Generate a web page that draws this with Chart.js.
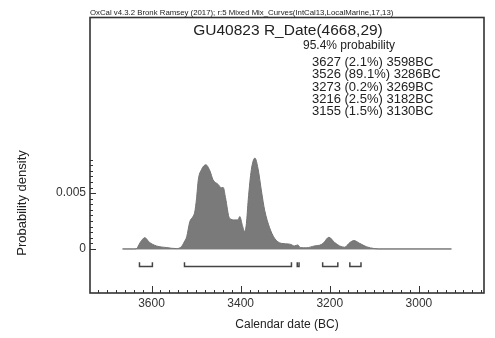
<!DOCTYPE html>
<html>
<head>
<meta charset="utf-8">
<script src="https://cdn.jsdelivr.net/npm/chart.js@4.4.1/dist/chart.umd.min.js"></script>
<style>
  html, body { margin: 0; padding: 0; background: #fff; }
  canvas { display: block; }
</style>
</head>
<body>
<canvas id="oxcal" width="495" height="338"></canvas>
<script>
// --- dados ---
const dates = [3665, 3640, 3634, 3625, 3615, 3605, 3589, 3566, 3544, 3533, 3527, 3521, 3514, 3507, 3503,
  3499, 3495, 3488, 3478, 3469, 3462, 3451, 3443, 3439, 3434, 3425, 3413, 3406, 3402, 3396, 3391,
  3387, 3383, 3376, 3368, 3361, 3353, 3346, 3335, 3324, 3309, 3290, 3279, 3272, 3266, 3253,
  3234, 3223, 3215, 3202, 3189, 3178, 3167, 3155, 3146, 3133, 3118, 3100, 3090, 2927];
const density = [0, 0, 0.00002, 0.0006, 0.00101, 0.0006, 0.00027, 0.00012, 0.00003, 0.0002, 0.0006, 0.0011,
  0.00245, 0.0029, 0.0033, 0.0045, 0.0062, 0.0071, 0.00754, 0.0070, 0.0062, 0.0058, 0.00548, 0.0055,
  0.0046, 0.00275, 0.0026, 0.0026, 0.0029, 0.0021, 0.00156, 0.0023, 0.0044, 0.0071, 0.00814, 0.0072,
  0.0051, 0.00345, 0.0019, 0.00096, 0.0005, 0.00043, 0.00027, 0.00036, 0.00012, 0.0001,
  0.00027, 0.00033, 0.0005, 0.00104, 0.00057, 0.00027, 0.00015, 0.00057, 0.00075, 0.0005, 0.0002,
  0.00003, 0, 0];

const rangeFrom = [3627, 3526, 3273, 3216, 3155];
const rangeTo = [3598, 3286, 3269, 3182, 3130];
const rangePct = ['2.1%', '89.1%', '0.2%', '2.5%', '1.5%'];

const xTickLabels = [3600, 3400, 3200, 3000];
const yTickLabels = ['0', '0.005'];
const yTickValues = [0, 0.005];

const FONT = "'Liberation Sans', Arial, sans-serif";

// pontos do histograma
const curve = dates.map((d, i) => ({ x: d, y: density[i] }));
const baseline = [{ x: dates[0], y: 0 }, { x: dates[dates.length - 1], y: 0 }];

// colchetes das faixas de 95.4% (null separa cada colchete)
const brackets = [];
rangeFrom.forEach((a, i) => {
    const b = rangeTo[i];
    brackets.push({ x: a, y: -0.0012 }, { x: a, y: -0.00158 }, { x: b, y: -0.00158 }, { x: b, y: -0.0012 });
    brackets.push({ x: b, y: null });
});

// moldura, ticks internos e textos no estilo OxCal
const oxcalDecor = {
    id: 'oxcalDecor',
    afterDraw(chart) {
        const { ctx, chartArea: ca, scales: { x, y } } = chart;
        ctx.save();
        ctx.strokeStyle = '#333';
        ctx.lineWidth = 1;

        // ticks do eixo x (a cada 20 anos, maiores a cada 200)
        for (let v = 2860; v <= 3730; v += 20) {
            const px = Math.round(x.getPixelForValue(v)) + 0.5;
            const len = v % 200 === 0 ? 7 : 3;
            ctx.beginPath();
            ctx.moveTo(px, ca.bottom);
            ctx.lineTo(px, ca.bottom - len);
            ctx.stroke();
        }
        // ticks do eixo y (0 a 0.008)
        for (let k = 0; k <= 16; k++) {
            const v = k * 0.0005;
            const py = Math.round(y.getPixelForValue(v)) + 0.5;
            const len = k % 10 === 0 ? 6 : 3;
            ctx.beginPath();
            ctx.moveTo(ca.left, py);
            ctx.lineTo(ca.left + len, py);
            ctx.stroke();
        }

        // moldura
        ctx.lineWidth = 1.6;
        ctx.strokeRect(ca.left, ca.top, ca.right - ca.left, ca.bottom - ca.top);

        // textos
        ctx.fillStyle = '#222';
        ctx.textBaseline = 'middle';
        ctx.textAlign = 'left';
        ctx.font = '7.8px ' + FONT;
        ctx.fillText('OxCal v4.3.2 Bronk Ramsey (2017); r:5 Mixed Mix_Curves(IntCal13,LocalMarine,17,13)', ca.left, 13);

        ctx.textAlign = 'center';
        ctx.font = '15.5px ' + FONT;
        ctx.fillText('GU40823 R_Date(4668,29)', 288, 31);

        ctx.textAlign = 'left';
        ctx.font = '12px ' + FONT;
        ctx.fillText('95.4% probability', 303, 46);
        ctx.font = '13px ' + FONT;
        rangeFrom.forEach((a, i) => {
            ctx.fillText(a + ' (' + rangePct[i] + ') ' + rangeTo[i] + 'BC', 312, 62.5 + i * 12.25);
        });

        // título do eixo y
        ctx.translate(22, 203);
        ctx.rotate(-Math.PI / 2);
        ctx.textAlign = 'center';
        ctx.font = '13px ' + FONT;
        ctx.fillText('Probability density', 0, 0);
        ctx.restore();
    }
};

const ctx = document.getElementById('oxcal').getContext('2d');

const chart = new Chart(ctx, {
    type: 'line',
    data: {
        datasets: [{
            label: 'R_Date',
            data: curve,
            backgroundColor: 'rgb(122, 122, 122)',
            borderColor: 'rgb(115, 115, 115)',
            borderWidth: 1,
            pointRadius: 0,
            fill: 'origin',
            cubicInterpolationMode: 'monotone'
        },
        {
            label: 'baseline',
            data: baseline,
            borderColor: '#c4c4c4',
            borderWidth: 2,
            pointRadius: 0,
            fill: false
        },
        {
            label: 'ranges',
            data: brackets,
            borderColor: '#444',
            borderWidth: 1.5,
            pointRadius: 0,
            fill: false,
            spanGaps: false,
            tension: 0
        }]
    },
    options: {
        responsive: false,
        animation: false,
        layout: { padding: { top: 17.5, right: 11, left: 0, bottom: 0 } },
        plugins: {
            legend: { display: false },
            tooltip: { enabled: false }
        },
        scales: {
            x: {
                type: 'linear',
                reverse: true,
                min: 2854,
                max: 3738,
                grid: { display: false, drawTicks: false },
                border: { display: false },
                afterBuildTicks: s => { s.ticks = xTickLabels.map(v => ({ value: v })); },
                afterFit: s => { s.height = 45; },
                ticks: {
                    color: '#333',
                    font: { family: FONT, size: 12 },
                    padding: 3,
                    maxRotation: 0,
                    callback: v => String(v)
                },
                title: {
                    display: true,
                    text: 'Calendar date (BC)',
                    color: '#222',
                    font: { family: FONT, size: 12 },
                    padding: { top: 0, bottom: 6 }
                }
            },
            y: {
                min: -0.00395,
                max: 0.02074,
                grid: { display: false, drawTicks: false },
                border: { display: false },
                afterBuildTicks: s => { s.ticks = yTickValues.map(v => ({ value: v })); },
                afterFit: s => { s.width = 90; },
                ticks: {
                    color: '#333',
                    font: { family: FONT, size: 12 },
                    padding: 4,
                    callback: (v, i) => yTickLabels[i]
                }
            }
        }
    },
    plugins: [oxcalDecor]
});
</script>
</body>
</html>
